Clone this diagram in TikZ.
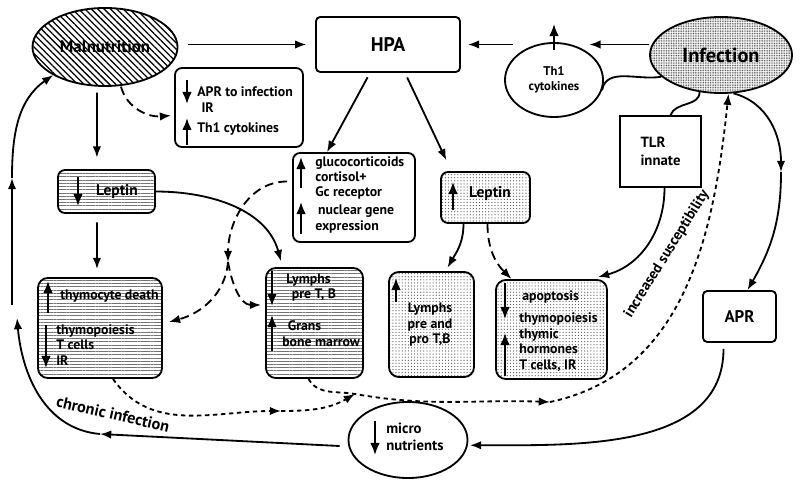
\documentclass[tikz,border=0pt]{standalone}
\usepackage{fontspec}
\setmainfont{PT Sans}
\usepackage{tikz}
\usetikzlibrary{arrows.meta,shapes.geometric,patterns.meta,positioning,calc}
\usepackage{xcolor}
\definecolor{stripegray}{gray}{0.45}
\definecolor{dotgray}{gray}{0.35}
\definecolor{infgray}{gray}{0.30}
\newcommand{\bodyfont}{\bfseries\fontsize{9.8}{11}\selectfont}
\tikzstyle{boxed} = [rectangle, draw, line width=1.3pt, rounded corners=5pt, inner sep=0pt]
\tikzstyle{oval} = [ellipse, draw, line width=1.3pt, inner sep=0pt]
\tikzstyle{stripes} = [pattern={Lines[angle=0,distance=2.3pt,line width=0.5pt]}, pattern color=stripegray]
\tikzstyle{speckle} = [pattern={Dots[distance=2.2pt,radius=0.45pt]}, pattern color=dotgray]
\tikzstyle{celltext} = [font=\bodyfont, align=left, inner sep=0pt]
\tikzstyle{arrow} = [line width=1.3pt, -{Latex[length=2.8mm,width=2.1mm]}]
\tikzstyle{updown} = [line width=1.3pt, -{Latex[length=3mm,width=2.4mm]}]
\tikzstyle{dashedarrow} = [arrow, dash pattern=on 2.2mm off 1.3mm]
\tikzstyle{dottedarrow} = [arrow, dash pattern=on 1.1mm off 0.9mm]

\begin{document}
\begin{tikzpicture}[x=0.025cm, y=-0.025cm]
\useasboundingbox (0,0) rectangle (800,484);

% top row
\node[oval, minimum width=3.625cm, minimum height=1.95cm, pattern={Lines[angle=-45,distance=3.2pt,line width=0.9pt]}, font=\bfseries\fontsize{12}{14}\selectfont] (mal) at (105,47) {Malnutrition};
\node[boxed, rounded corners=3pt, minimum width=3.6cm, minimum height=1.375cm, font=\bfseries\fontsize{14}{16}\selectfont] (hpa) at (388,44.5) {HPA};
\node[oval, minimum width=3.55cm, minimum height=1.9cm, pattern={Dots[distance=1.2pt,radius=0.4pt]}, pattern color=infgray, font=\bfseries\fontsize{14.5}{16}\selectfont] (inf) at (721,55) {Infection};
\node[oval, minimum width=2.45cm, minimum height=1.85cm, font=\bfseries\fontsize{9}{11}\selectfont, align=center] (th1) at (554,80) {Th1\\cytokines};
\node[rectangle, draw, line width=1.3pt, minimum width=2.025cm, minimum height=1.775cm, celltext, font=\bfseries\fontsize{10.5}{12}\selectfont] (tlr) at (660.5,151.5) {TLR\\[1pt]innate};
\node[boxed, rounded corners=3pt, minimum width=1.825cm, minimum height=1.275cm, font=\bfseries\fontsize{12}{14}\selectfont] (apr) at (739.5,316.5) {APR};
\node[oval, minimum width=2.975cm, minimum height=1.9cm] (micro) at (408,440) {};
\node[celltext, anchor=west, font=\bfseries\fontsize{10.5}{12.5}\selectfont] (microtext) at (386,437) {micro\\nutrients};

% APR / IR box
\node[boxed, minimum width=3.2cm, minimum height=1.975cm] (irbox) at (239,107.5) {};
\node[celltext, anchor=west] (irtext) at (197,99.5) {APR to infection\\\hspace{3pt}IR};
\node[celltext, anchor=west] (thtext) at (197,129) {Th1 cytokines};

% glucocorticoid box
\node[boxed, minimum width=3.05cm, minimum height=2.225cm] (gluco) at (354,197.5) {};
\node[celltext, anchor=west] (glutext) at (315,178) {glucocorticoids\\cortisol+\\Gc receptor};
\node[celltext, anchor=west] (genetext) at (315,219) {\hspace{2pt}nuclear gene\\expression};

% leptin boxes
\node[boxed, stripes, minimum width=2.425cm, minimum height=1.075cm] (lepdn) at (106.5,191.5) {};
\node[celltext, font=\bfseries\fontsize{11}{13}\selectfont] (lepdntext) at (117,192) {Leptin};
\node[boxed, speckle, minimum width=2.225cm, minimum height=1.275cm] (lepup) at (485.5,197.5) {};
\node[celltext, font=\bfseries\fontsize{11}{13}\selectfont] (lepuptext) at (490,194) {Leptin};

% lower boxes
\node[boxed, stripes, rounded corners=7pt, minimum width=3.1cm, minimum height=2.5cm] (thym) at (100,328) {};
\node[celltext, anchor=west] (thytext) at (60,296) {thymocyte death};
\node[celltext, anchor=west] (poitext) at (56,345) {thymopoiesis\\T cells\\IR};
\node[boxed, stripes, rounded corners=7pt, minimum width=2.425cm, minimum height=2.75cm] (lymA) at (314.5,323) {};
\node[celltext, anchor=west] (lymAtext) at (286,287.5) {Lymphs\\\hspace{4pt}pre T, B};
\node[celltext, anchor=west] (granstext) at (282,333.5) {\hspace{4pt}Grans\\bone marrow};
\node[boxed, speckle, rounded corners=7pt, minimum width=2.125cm, minimum height=2.625cm] (lymB) at (431.5,324.5) {};
\node[celltext, align=center] (lymBtext) at (430,325) {Lymphs\\pre and\\pro T,B};
\node[boxed, speckle, rounded corners=7pt, minimum width=2.775cm, minimum height=2.475cm] (apop) at (551.5,329.5) {};
\node[celltext, anchor=west] (apotext) at (522,297) {apoptosis};
\node[celltext, anchor=west] (hormtext) at (519,342) {thymopoiesis\\thymic\\hormones\\T cells, IR};

% up and down marks
\draw[updown] ([yshift=-0.2cm]th1.north) -- ([yshift=0.45cm]th1.north);
\draw[updown] (187,80) -- (187,104);
\draw[updown] (187,145) -- (187,118);
\draw[updown] (78,177) -- (78,206);
\draw[updown] (48,313) -- (48,281);
\draw[updown] (46,325) -- (46,368);
\draw[updown] (301,188) -- (301,157);
\draw[updown] (301,234) -- (301,202);
\draw[updown] (272,271) -- (272,306);
\draw[updown] (272,351) -- (272,315);
\draw[updown] (396,302) -- (396,278);
\draw[updown] (505,283) -- (505,319);
\draw[updown] (505,376) -- (505,333);
\draw[updown] (453,210) -- (453,182);
\draw[updown] (375,421) -- (375,455);

% connectors along the top
\draw[arrow, shorten <=0.25cm, shorten >=0.22cm] (mal.east |- hpa.west) -- (hpa.west);
\draw[arrow] (inf.west |- hpa.east) -- (th1.north east |- hpa.east);
\draw[arrow, shorten <=0.15cm, shorten >=0.175cm] (th1.north west |- hpa.east) -- (hpa.east);
\draw[line width=1.3pt] (th1.-12) to[out=80,in=190] (inf.200);
\draw[line width=1.3pt] (inf.240) to[out=-90,in=70] ([xshift=0.25cm]tlr.north);
\draw[arrow] ([xshift=0.1cm]tlr.south) to[out=-90,in=15] ([xshift=-0.25cm,yshift=0.05cm]apop.north east);

% infection to APR to micronutrients
\coordinate (aprbend) at (781,172);
\draw[arrow] (inf.-72) to[out=-15,in=90] (aprbend);
\draw[arrow] (aprbend) to[out=-90,in=60] ([xshift=0.2cm]apr.north);
\draw[arrow, shorten <=0.15cm, shorten >=0.05cm] ([xshift=-0.4cm]apr.south) to[out=-90,in=0] (micro.-5);

% chronic infection loop
\coordinate (chronic1) at (100,434);
\coordinate (chronic2) at (17,318);
\coordinate (chronic3) at (12,305);
\coordinate (chronic4) at (12,178);
\draw[arrow] ([xshift=-0.2cm,yshift=-0.15cm]micro.west) -- (chronic1);
\draw[arrow] (chronic1) to[out=175,in=-85] (chronic2);
\draw[arrow] (chronic3) -- (chronic4);
\draw[arrow] (chronic4) to[out=90,in=215] (mal.south west);
\node[rotate=-13, font=\bfseries\fontsize{11.5}{13}\selectfont] (chronictext) at (113,414) {chronic infection};

% malnutrition and leptin
\draw[arrow, shorten <=0.15cm, shorten >=0.3cm] ([xshift=-0.2cm]mal.south) -- ([xshift=-0.24cm]lepdn.north);
\draw[arrow, shorten <=0.225cm, shorten >=0.2cm] ([xshift=-0.24cm]lepdn.south) -- ([xshift=-0.075cm]thym.north);
\draw[dashedarrow] ([xshift=0.4cm]mal.south) to[out=-75,in=185] ([xshift=-0.075cm,yshift=-0.2cm]irbox.west);
\draw[arrow, shorten >=0.15cm] (lepdn.east) to[out=0,in=105] ([xshift=-0.8cm]lymA.north);

% HPA outputs
\draw[arrow, shorten <=0.125cm] ([xshift=-0.45cm]hpa.south) -- ([xshift=-0.675cm]gluco.north);
\draw[arrow, shorten <=0.125cm, shorten >=0.3cm] ([xshift=0.425cm]hpa.south) -- ([xshift=-0.85cm]lepup.north);
\coordinate (glusplit) at (228,262);
\draw[dashedarrow] ([xshift=-0.125cm,yshift=0.4cm]gluco.west) to[out=180,in=90] (glusplit);
\draw[dashedarrow] (glusplit) to[out=-80,in=180] ([xshift=-0.1cm,yshift=0.45cm]lymA.west);
\draw[dashedarrow] (glusplit) to[out=-95,in=15] ([xshift=0.15cm,yshift=0.15cm]thym.east);
\draw[arrow, shorten >=0.1cm] ([xshift=-0.55cm]lepup.south) to[out=-90,in=60] ([xshift=0.35cm]lymB.north);
\draw[dashedarrow] ([xshift=0.05cm]lepup.south) to[out=-90,in=135] ([xshift=-1.0cm]apop.north);

% increased susceptibility
\coordinate (susc1) at (281,411);
\coordinate (susc2) at (355,394);
\coordinate (susc3) at (550,402);
\draw[dottedarrow] ([xshift=0.325cm]thym.south) to[out=-55,in=180] (susc1);
\draw[dottedarrow] (susc1) to[out=0,in=210] (susc2);
\draw[dottedarrow] ([xshift=-0.15cm]lymA.south) to[out=-60,in=170] (susc2) to[out=-10,in=178] (susc3);
\draw[dottedarrow] (susc3) to[out=12,in=-96] (inf.-79);
\node[rotate=58, font=\bfseries\fontsize{10.5}{12}\selectfont] (susctext) at (667,254) {increased susceptibility};
\end{tikzpicture}
\end{document}
